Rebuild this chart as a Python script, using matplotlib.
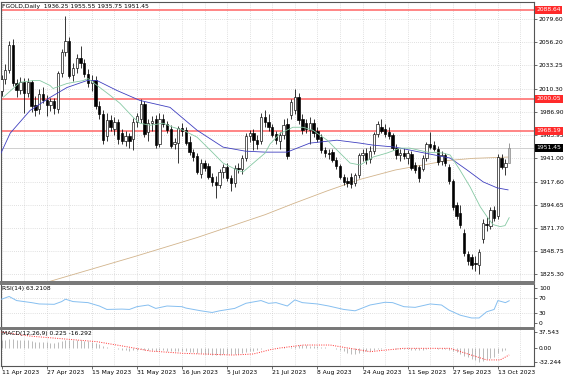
import matplotlib
matplotlib.use("Agg")
import matplotlib.pyplot as plt
import numpy as np

plt.rcParams['font.family'] = ['DejaVu Sans']
plt.rcParams['font.size'] = 4.3

# daily candles, 11 Apr 2023 .. 18 Oct 2023
opens = [2008, 2020, 2029, 2054, 2016, 2009, 2017, 2006, 2017, 1994,
         1990, 2005, 1999, 1994, 1998, 1990, 2026, 2047, 2058, 2024,
         2031, 2041, 2036, 2025, 2016, 2019, 1993, 1985, 1963, 1979,
         1970, 1977, 1966, 1958, 1963, 1960, 1977, 1980, 1995, 1967,
         1976, 1980, 1955, 1980, 1975, 1970, 1955, 1956, 1971, 1969,
         1957, 1947, 1943, 1925, 1936, 1933, 1922, 1917, 1914, 1927,
         1932, 1921, 1916, 1931, 1930, 1941, 1963, 1966, 1959, 1958,
         1982, 1977, 1972, 1965, 1958, 1964, 1975, 1984, 1989, 2002,
         1980, 1976, 1969, 1976, 1968, 1962, 1949, 1946, 1947, 1939,
         1933, 1922, 1918, 1922, 1916, 1924, 1944, 1946, 1940, 1948,
         1965, 1972, 1970, 1967, 1964, 1951, 1944, 1946, 1941, 1945,
         1934, 1932, 1930, 1941, 1955, 1954, 1950, 1938, 1944, 1932,
         1918, 1894, 1886, 1866, 1845, 1842, 1836, 1834, 1860, 1875,
         1873, 1889, 1883, 1941, 1932, 1936.25]
highs = [2024, 2035, 2058, 2060, 2020, 2022, 2021, 2021, 2019, 2003,
         2010, 2012, 2004, 2001, 2001, 2028, 2050, 2083, 2062, 2036,
         2045, 2053, 2040, 2030, 2024, 2023, 1998, 1989, 1986, 1984,
         1982, 1980, 1970, 1968, 1966, 1981, 1986, 2000, 1998, 1980,
         1983, 1984, 1986, 1985, 1978, 1974, 1961, 1973, 1976, 1972,
         1963, 1950, 1946, 1940, 1939, 1936, 1926, 1923, 1930, 1935,
         1936, 1924, 1934, 1936, 1944, 1966, 1969, 1970, 1964, 1986,
         1989, 1985, 1975, 1968, 1967, 1980, 1981, 2000, 2010, 2006,
         1985, 1980, 1982, 1980, 1972, 1965, 1952, 1950, 1950, 1942,
         1935, 1925, 1922, 1926, 1926, 1946, 1950, 1951, 1953, 1967,
         1978, 1980, 1975, 1972, 1966, 1955, 1950, 1951, 1949, 1948,
         1937, 1934, 1944, 1957, 1967, 1958, 1953, 1948, 1946, 1935,
         1920, 1897, 1894, 1870, 1848, 1845, 1843, 1850, 1880, 1882,
         1892, 1893, 1945, 1945, 1940, 1955.55]
lows = [2003, 2015, 2026, 2013, 2002, 2005, 1986, 2002, 1987, 1983,
        1985, 1996, 1983, 1988, 1985, 1986, 2022, 2043, 2021, 2018,
        2026, 2031, 2022, 2012, 2008, 1990, 1980, 1955, 1958, 1968,
        1964, 1955, 1955, 1953, 1951, 1949, 1972, 1976, 1962, 1958,
        1968, 1951, 1952, 1972, 1966, 1951, 1950, 1936, 1963, 1954,
        1944, 1938, 1925, 1921, 1928, 1920, 1913, 1901, 1911, 1921,
        1918, 1908, 1912, 1926, 1925, 1938, 1957, 1949, 1950, 1955,
        1972, 1968, 1962, 1955, 1950, 1960, 1940, 1980, 1985, 1975,
        1965, 1966, 1955, 1962, 1957, 1946, 1942, 1940, 1937, 1930,
        1920, 1914, 1912, 1911, 1913, 1921, 1938, 1935, 1936, 1945,
        1962, 1966, 1962, 1960, 1949, 1940, 1938, 1940, 1935, 1929,
        1926, 1917, 1928, 1938, 1950, 1948, 1934, 1934, 1933, 1915,
        1889, 1880, 1871, 1843, 1834, 1830, 1828, 1825, 1856, 1868,
        1870, 1878, 1880, 1930, 1924, 1935.75]
closes = [2020, 2029, 2054, 2016, 2009, 2017, 2006, 2017, 1993, 1989,
          2005, 1999, 1994, 1998, 1991, 2026, 2047, 2058, 2023, 2031,
          2041, 2036, 2025, 2016, 2019, 1993, 1985, 1959, 1979, 1972,
          1977, 1960, 1958, 1963, 1958, 1977, 1983, 1995, 1965, 1976,
          1978, 1954, 1980, 1975, 1969, 1953, 1957, 1971, 1968, 1956,
          1947, 1942, 1927, 1936, 1931, 1922, 1917, 1914, 1927, 1932,
          1921, 1916, 1931, 1930, 1941, 1963, 1966, 1959, 1955, 1982,
          1977, 1972, 1964, 1959, 1964, 1974, 1943, 1997, 2002, 1979,
          1969, 1970, 1976, 1966, 1960, 1949, 1946, 1945, 1939, 1933,
          1922, 1917, 1916, 1915, 1924, 1944, 1946, 1939, 1948, 1965,
          1975, 1968, 1965, 1963, 1951, 1944, 1946, 1943, 1946, 1931,
          1929, 1921, 1941, 1955, 1952, 1950, 1937, 1944, 1936, 1918,
          1892, 1883, 1874, 1846, 1838, 1834, 1835, 1847, 1876, 1874,
          1889, 1881, 1942, 1932, 1936, 1951.45]

# moving averages, read as (bar, price) vertices
ma_fast_bar = [0.5, 4.9, 8.4, 10.2, 12.9, 13.7, 17.4, 21.7, 23.0, 28.9, 31.5,
               35.0, 36.8, 39.5, 43.0, 45.6, 48.3, 52.0, 55.5, 58.9, 62.6,
               64.2, 67.9, 70.1, 71.4, 74.1, 77.5, 80.2, 82.8, 86.6, 90.0,
               92.7, 95.4, 98.8, 102.5, 106.0, 108.6, 113.2, 117.4, 119.3,
               121.9, 124.6, 127.3, 129.1, 130.7, 132.6, 133.9, 135.0]
ma_fast_val = [2001.7, 2016.5, 2018.2, 2018.2, 2013.3, 2010.3, 2015.3, 2018.2,
               2020.2, 2003.4, 1995.5, 1981.6, 1975.7, 1973.7, 1975.7, 1971.7,
               1968.7, 1961.8, 1948.9, 1936.0, 1929.1, 1927.1, 1939.0, 1946.0,
               1955.0, 1965.7, 1971.7, 1971.7, 1968.7, 1958.8, 1946.0, 1936.0,
               1934.1, 1942.0, 1946.0, 1950.9, 1950.9, 1946.9, 1946.0, 1944.0,
               1929.1, 1912.3, 1892.5, 1882.6, 1874.7, 1872.7, 1873.7, 1881.6]
ma_mid_bar = [-0.4, 2.3, 7.6, 12.9, 17.4, 22.7, 25.4, 30.7, 36.8, 44.8, 52.0,
              58.9, 64.8, 70.1, 75.9, 82.0, 89.2, 95.3, 98.8, 104.7, 111.3,
              119.3, 123.8, 128.1, 131.8, 134.7]
ma_mid_val = [1944.0, 1965.8, 1988.5, 2001.4, 2011.3, 2018.2, 2018.2, 2008.3,
              1998.4, 1991.5, 1968.7, 1951.9, 1947.9, 1946.9, 1946.9, 1955.9,
              1958.8, 1955.9, 1953.9, 1951.9, 1946.9, 1941.0, 1929.1, 1917.2,
              1911.3, 1909.3]
ma_slow_bar = [4.9, 12.9, 35.5, 52.0, 70.1, 77.5, 86.6, 95.3, 104.7, 112.1,
               118.5, 125.4, 134.7]
ma_slow_val = [1809.0, 1818.2, 1843.0, 1861.8, 1884.6, 1895.5, 1908.3, 1919.7,
               1929.1, 1934.1, 1938.5, 1940.7, 1942.0]

levels = [2088.64, 2000.05, 1968.19]
last_price = 1951.45
price_ticks = [1825.30, 1848.75, 1871.70, 1894.65, 1917.60, 1941.00,
               1963.95, 1986.90, 2010.30, 2033.25, 2056.20, 2079.60]

# RSI(14) vertices
rsi_bar = [0, 2, 4, 8, 10, 14, 16, 17, 19, 23, 26, 28, 32, 34, 36, 39, 41, 44,
           48, 49, 53, 56, 58, 62, 65, 69, 71, 73, 76, 78, 80, 84, 87, 91, 94,
           95, 98, 102, 104, 107, 110, 114, 117, 119, 122, 125, 127, 129, 131,
           132, 134, 135]
rsi_val = [67.6, 75.2, 63.8, 58, 54.3, 53.3, 61, 67.6, 61, 58, 48.6, 39, 40,
           39, 46.7, 51.4, 41.9, 48.6, 46.7, 42.9, 35.2, 30.5, 35.2, 41.9,
           56.2, 63.8, 56, 58, 48.6, 65.7, 58, 54.3, 48.6, 39, 35.2, 39, 51.4,
           59, 58, 46.7, 44.8, 54.3, 51.4, 37.1, 22.9, 15.2, 15.2, 32.4, 39,
           63.8, 58, 63.2108]

# MACD(12,26,9): main per bar, signal as vertices
macd_main = [18, 19, 21, 21, 20, 20, 19, 19, 17, 15, 15, 14,
             13, 12, 11, 13, 16, 19, 18, 18, 18, 18, 17, 16, 15, 12,
             9, 5, 3, 1, 0, -2, -4, -5, -6, -5,
             -4, -3, -4, -4, -4, -6, -5, -5, -6, -8, -8, -7, -7, -8, -9,
             -10, -12, -12, -13, -14, -16, -17, -16, -15, -15, -15, -14,
             -13, -12, -9, -7, -6, -5, -2, 0, 1, 1, 1, 1, 2, 0,
             3, 5, 6, 6, 6, 5, 5, 4, 3, 2, 1, 0, -2, -4,
             -8, -11, -13, -14, -12, -10, -8, -6, -4, -3, -2, -1, -1, -1,
             -2, -2, -2, -3, -4, -5, -5, -4, -2, -1, -1, -2, -2, -3, -4,
             -7, -10, -14, -18, -22, -26, -29, -32.244, -30, -27, -24, -21,
             -12, -8, -4, 0.225]
macd_sig_bar = [0, 7.6, 25.3, 33.3, 39.5, 48.3, 61.6, 67, 71.4, 74, 80.3,
                87.4, 98, 106.8, 119.3, 129, 132.6, 135]
macd_sig_val = [37.543, 28, 15, 3, -7, -12.5, -16.5, -14, -4, 0, 7, 7, -8.6,
                -0.8, -0.8, -28, -28, -16.292]

date_labels = ['11 Apr 2023', '27 Apr 2023', '15 May 2023', '31 May 2023',
               '16 Jun 2023', '5 Jul 2023', '21 Jul 2023', '8 Aug 2023',
               '24 Aug 2023', '11 Sep 2023', '27 Sep 2023', '13 Oct 2023']

W, H = 564., 376.
fig = plt.figure(figsize=(W / 100, H / 100), dpi=100)
fig.patch.set_facecolor('white')


def px_axes(x0, y0, x1, y1):
    return fig.add_axes([x0 / W, 1 - y1 / H, (x1 - x0) / W, (y1 - y0) / H])


ax = px_axes(1, 2, 534, 282)
ax_rsi = px_axes(1, 283.5, 534, 327.5)
ax_macd = px_axes(1, 329, 534, 366)

o = np.array(opens, float)
h = np.array(highs, float)
l = np.array(lows, float)
c = np.array(closes, float)
idx = np.arange(len(c))
xlim = (-0.15, 141.6)

grid_kw = dict(color='#c4c4c4', lw=0.5, ls=(0, (1, 2)), zorder=0)
for a in (ax, ax_rsi, ax_macd):
    a.set_xlim(*xlim)
    for b in range(0, 142, 6):
        a.axvline(b, **grid_kw)
    for s in a.spines.values():
        s.set_color('#555555')
        s.set_linewidth(0.8)
    a.yaxis.tick_right()
    a.tick_params(axis='y', length=2, width=0.5, pad=1.5, labelsize=4.3,
                  colors='#333333', labelcolor='black')
    a.tick_params(axis='x', length=0, labelbottom=False)
ax.spines['bottom'].set_linewidth(1.4)
ax.spines['bottom'].set_color('#777777')
ax_rsi.spines['top'].set_linewidth(1.4)
ax_rsi.spines['top'].set_color('#777777')
ax_rsi.spines['bottom'].set_linewidth(1.4)
ax_rsi.spines['bottom'].set_color('#777777')
ax_macd.spines['top'].set_linewidth(1.4)
ax_macd.spines['top'].set_color('#777777')

# main price panel
ax.set_ylim(1817.5, 2096.5)
ax.set_yticks(price_ticks)
ax.set_yticklabels(['%.2f' % v for v in price_ticks])
for v in price_ticks:
    ax.axhline(v, **grid_kw)

for lv in levels:
    ax.axhline(lv, color='#ff6464', lw=1.1, zorder=2)
ax.axhline(last_price, color='#c8c8c8', lw=0.6, zorder=1)

ax.plot(ma_slow_bar, ma_slow_val, color='#d2b48c', lw=0.6, zorder=2)
ax.plot(ma_mid_bar, ma_mid_val, color='#4040c0', lw=0.6, zorder=5)
ax.plot(ma_fast_bar, ma_fast_val, color='#86c9a4', lw=0.6, zorder=5)

up = c >= o
face = np.where(up, 'white', 'black').astype(object)
edge = np.array(['black'] * len(c), dtype=object)
face[-1] = '#c8c8c8'
edge[-1] = '#808080'
ax.vlines(idx, l, h, color=list(edge), lw=0.55, zorder=3)
ax.bar(idx, np.maximum(np.abs(c - o), 0.7), bottom=np.minimum(o, c),
       width=0.62, color=list(face), edgecolor=list(edge), linewidth=0.45,
       zorder=4)

ax.text(1.5 / 533, 1 - 4.5 / 280, 'FGOLD,Daily  1936.25 1955.55 1935.75 1951.45',
        transform=ax.transAxes, ha='left', va='center', fontsize=4.3)

for lv, col in [(2088.64, '#ff2a2a'), (2000.05, '#ff2a2a'),
                (1968.19, '#ff2a2a'), (last_price, 'black')]:
    ax.text(1 + 2.5 / 533, lv, '%.2f' % lv, transform=ax.get_yaxis_transform(),
            ha='left', va='center', color='white', fontsize=4.3,
            bbox=dict(boxstyle='square,pad=0.25', fc=col, ec='none'),
            clip_on=False, zorder=10)

# RSI panel
ax_rsi.set_ylim(-11.4, 111.4)
ax_rsi.set_yticks([0, 30, 70, 100])
ax_rsi.set_yticklabels(['0', '30', '70', '100'])
for v in (30, 70):
    ax_rsi.axhline(v, **grid_kw)
ax_rsi.plot(rsi_bar, rsi_val, color='#86bff0', lw=0.7, zorder=3)
ax_rsi.text(1.5 / 533, 1 - 5 / 44, 'RSI(14) 63.2108', transform=ax_rsi.transAxes,
            ha='left', va='center', fontsize=4.3)

# MACD panel
ax_macd.set_ylim(-42.3, 44.7)
ax_macd.set_yticks([-32.244, 0, 37.543])
ax_macd.set_yticklabels(['-32.244', '0.00', '37.543'])
ax_macd.vlines(idx, 0, macd_main, color='#a8a8a8', lw=0.55, zorder=2)
ax_macd.plot(macd_sig_bar, macd_sig_val, color='#ff3030', lw=0.7,
             ls=(0, (1, 1.4)), zorder=3)
ax_macd.text(1.5 / 533, 1 - 4 / 37, 'MACD(12,26,9) 0.225 -16.292',
             transform=ax_macd.transAxes, ha='left', va='center', fontsize=4.3)

ax_macd.set_xticks(np.arange(0, 12 * len(date_labels), 12))
ax_macd.set_xticklabels(date_labels, ha='left')
ax_macd.tick_params(axis='x', length=2, width=0.5, pad=1.2, labelbottom=True,
                    labelsize=4.3, colors='#333333', labelcolor='black')

fig.savefig('out.png', dpi=100)
